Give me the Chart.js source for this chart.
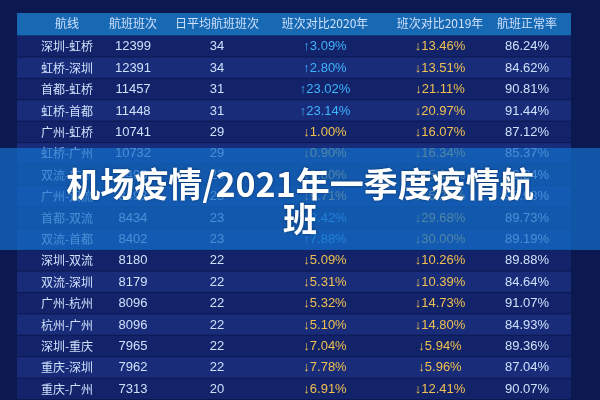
<!DOCTYPE html>
<html><head><meta charset="utf-8">
<script src="https://cdn.jsdelivr.net/npm/chart.js@4"></script>
<style>html,body{margin:0;padding:0;background:#0c1850;}#w{width:600px;height:400px;position:relative}</style>
</head><body><div id="w"><canvas id="c"></canvas></div>
<script>
const headers = ['航线','航班班次','日平均航班班次','班次对比2020年','班次对比2019年','航班正常率'];
const routes = ['深圳-虹桥','虹桥-深圳','首都-虹桥','虹桥-首都','广州-虹桥','虹桥-广州','双流-广州','广州-双流','首都-双流','双流-首都','深圳-双流','双流-深圳','广州-杭州','杭州-广州','深圳-重庆','重庆-深圳','重庆-广州'];
const flights = [12399,12391,11457,11448,10741,10732,8495,8493,8434,8402,8180,8179,8096,8096,7965,7962,7313];
const daily = [34,34,31,31,29,29,23,23,23,23,22,22,22,22,22,22,20];
const vs2020 = [3.09,2.80,23.02,23.14,-1.00,-0.90,-9.80,-9.71,8.42,7.88,-5.09,-5.31,-5.32,-5.10,-7.04,-7.78,-6.91];
const vs2019 = [-13.46,-13.51,-21.11,-20.97,-16.07,-16.34,-15.14,-15.24,-29.68,-30.00,-10.26,-10.39,-14.73,-14.80,-5.94,-5.96,-12.41];
const onTime = [86.24,84.62,90.81,91.44,87.12,85.37,92.24,93.98,89.73,89.19,89.88,84.64,91.07,84.93,89.36,87.04,90.07];
const title = ['机场疫情/2021年一季度疫情航','班'];

const colX = [67,133,217,325,440,527];
const tablePlugin = {
  id:'table',
  beforeDraw(chart){
    const ctx = chart.ctx, y = chart.scales.y;
    ctx.save();
    ctx.fillStyle = '#0c1850'; ctx.fillRect(0,0,600,400);
    const step = y.getPixelForValue(1)-y.getPixelForValue(0);
    routes.forEach((r,i)=>{
      const cy = y.getPixelForValue(i);
      ctx.fillStyle = i%2===0 ? '#13236a' : '#182c7a';
      ctx.fillRect(17,cy-step/2,554,step-1);
    });
    ctx.fillStyle = '#1769b4';
    ctx.fillRect(17,13,554,step+1);
    ctx.restore();
  },
  afterDraw(chart){
    const ctx = chart.ctx, y = chart.scales.y;
    ctx.save();
    ctx.textAlign='center'; ctx.textBaseline='middle';
    ctx.font = '12px "Noto Sans CJK SC", sans-serif';
    ctx.fillStyle = '#cfe0fb';
    headers.forEach((h,j)=>ctx.fillText(h,colX[j],23));
    const pct = v => Math.abs(v).toFixed(2)+'%';
    routes.forEach((r,i)=>{
      const cy = y.getPixelForValue(i);
      ctx.font = '12px "Noto Sans CJK SC", sans-serif';
      ctx.fillStyle = '#cfe0fb';
      ctx.fillText(r,colX[0],cy);
      ctx.font = '13px "Liberation Sans", Arial, sans-serif';
      ctx.fillText(String(flights[i]),colX[1],cy);
      ctx.fillText(String(daily[i]),colX[2],cy);
      ctx.fillText(onTime[i].toFixed(2)+'%',colX[5],cy);
      ctx.fillStyle = vs2020[i]>=0 ? '#3fb4ff' : '#f0c050';
      ctx.fillText((vs2020[i]>=0?'↑':'↓')+pct(vs2020[i]),colX[3],cy);
      ctx.fillStyle = '#f0c050';
      ctx.fillText((vs2019[i]>=0?'↑':'↓')+pct(vs2019[i]),colX[4],cy);
    });
    ctx.fillStyle = 'rgba(18,110,200,0.72)';
    ctx.fillRect(0,148,600,102);
    ctx.fillStyle = '#ffffff';
    ctx.font = 'bold 34px "Noto Sans CJK SC", sans-serif';
    ctx.shadowColor='rgba(0,0,0,0.4)'; ctx.shadowBlur=3;
    ctx.fillText(title[0],300,184);
    ctx.fillText(title[1],300,219);
    ctx.restore();
  }
};
new Chart(document.getElementById('c'),{
  type:'bar',
  data:{labels:routes,datasets:[{data:flights.map(()=>0),backgroundColor:'rgba(0,0,0,0)'}]},
  options:{
    indexAxis:'y',responsive:true,maintainAspectRatio:false,animation:false,
    layout:{padding:{top:36,bottom:0,left:0,right:0}},
    plugins:{legend:{display:false},tooltip:{enabled:false}},
    scales:{y:{display:false},x:{display:false,min:0,max:1}}
  },
  plugins:[tablePlugin]
});
</script></body></html>
